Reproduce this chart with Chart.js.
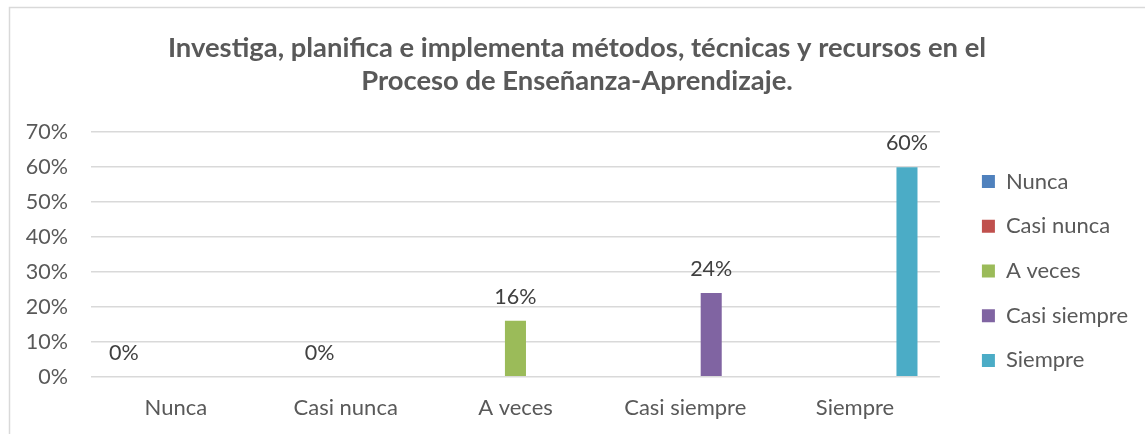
<!DOCTYPE html>
<html><head><meta charset="utf-8">
<script src="https://cdn.jsdelivr.net/npm/chart.js@4"></script>
<style>html,body{margin:0;padding:0;background:#fff}#wrap{position:relative;width:1145px;height:434px}</style>
</head><body><div id="wrap"><canvas id="c" width="1145" height="434"></canvas></div>
<script>
const categories = ['Nunca', 'Casi nunca', 'A veces', 'Casi siempre', 'Siempre'];
const seriesNames = ['Nunca', 'Casi nunca', 'A veces', 'Casi siempre', 'Siempre'];
const nuncaValues = [0, 0, 0, 0, 0];
const casiNuncaValues = [0, 0, 0, 0, 0];
const aVecesValues = [0, 0, 16, 0, 0];
const casiSiempreValues = [0, 0, 0, 24, 0];
const siempreValues = [0, 0, 0, 0, 60];
const yTickValues = [0, 10, 20, 30, 40, 50, 60, 70];
const titleLines = ['Investiga, planifica e implementa métodos, técnicas y recursos en el', 'Proceso de Enseñanza-Aprendizaje.'];
const seriesColors = ['#4F81BD', '#C0504D', '#9BBB59', '#8064A2', '#4BACC6'];

const FONT = 'Lato, "Open Sans", sans-serif';
const seriesValues = [nuncaValues, casiNuncaValues, aVecesValues, casiSiempreValues, siempreValues];

const frame = {
  id: 'frame',
  beforeDraw(chart) {
    const ctx = chart.ctx;
    ctx.save();
    ctx.strokeStyle = '#d9d9d9';
    ctx.lineWidth = 1.5;
    ctx.beginPath();
    ctx.moveTo(9.5, 1000);
    ctx.lineTo(9.5, 7.5);
    ctx.lineTo(2000, 7.5);
    ctx.stroke();
    ctx.restore();
  }
};

const valueLabels = {
  id: 'valueLabels',
  afterDatasetsDraw(chart) {
    const ctx = chart.ctx;
    ctx.save();
    ctx.font = '21.5px ' + FONT;
    ctx.fillStyle = '#404040';
    ctx.textAlign = 'center';
    ctx.textBaseline = 'middle';
    chart.data.datasets.forEach((ds, i) => {
      const idx = categories.indexOf(ds.label);
      const el = chart.getDatasetMeta(i).data[idx];
      if (!el) return;
      ctx.fillText(ds.data[idx] + '%', el.x, el.y - 24);
    });
    ctx.restore();
  }
};

new Chart(document.getElementById('c'), {
  type: 'bar',
  data: {
    labels: categories,
    datasets: seriesNames.map((n, i) => ({
      label: n,
      data: seriesValues[i],
      backgroundColor: seriesColors[i],
      borderWidth: 0,
      categoryPercentage: 0.765,
      barPercentage: 0.81
    }))
  },
  options: {
    responsive: false,
    animation: false,
    devicePixelRatio: 1,
    layout: { padding: { left: 16, right: 7, top: 0, bottom: 0 } },
    plugins: {
      tooltip: { enabled: false },
      title: {
        display: true,
        text: titleLines,
        color: '#595959',
        font: { family: FONT, size: 27.4, weight: 'bold', lineHeight: 1.19 },
        padding: { top: 32, bottom: 35 }
      },
      legend: {
        position: 'right',
        title: { display: true, text: ' ', font: { size: 10, lineHeight: 1.2 }, padding: { top: 96, bottom: 0 } },
        labels: {
          color: '#595959',
          font: { family: FONT, size: 22 },
          boxWidth: 13,
          boxHeight: 13,
          padding: 22.7
        }
      }
    },
    scales: {
      x: {
        grid: { display: false, drawTicks: false },
        border: { display: false },
        ticks: { color: '#595959', font: { family: FONT, size: 22 }, padding: 18, maxRotation: 0 },
        afterFit(s) { s.height = 57.3; }
      },
      y: {
        min: 0, max: 70,
        afterBuildTicks(s) { s.ticks = yTickValues.map(v => ({ value: v })); },
        grid: { color: '#d9d9d9', lineWidth: 1.5, drawTicks: false },
        border: { display: false },
        ticks: { color: '#595959', font: { family: FONT, size: 21.5 }, padding: 23, callback: v => v + '%' },
        afterFit(s) { s.width = 75; }
      },
      y2: {
        position: 'right',
        display: true,
        grid: { display: false, drawTicks: false },
        border: { display: false },
        ticks: { display: false },
        afterFit(s) { s.width = 19.3; }
      }
    }
  },
  plugins: [frame, valueLabels]
});
</script></body></html>
